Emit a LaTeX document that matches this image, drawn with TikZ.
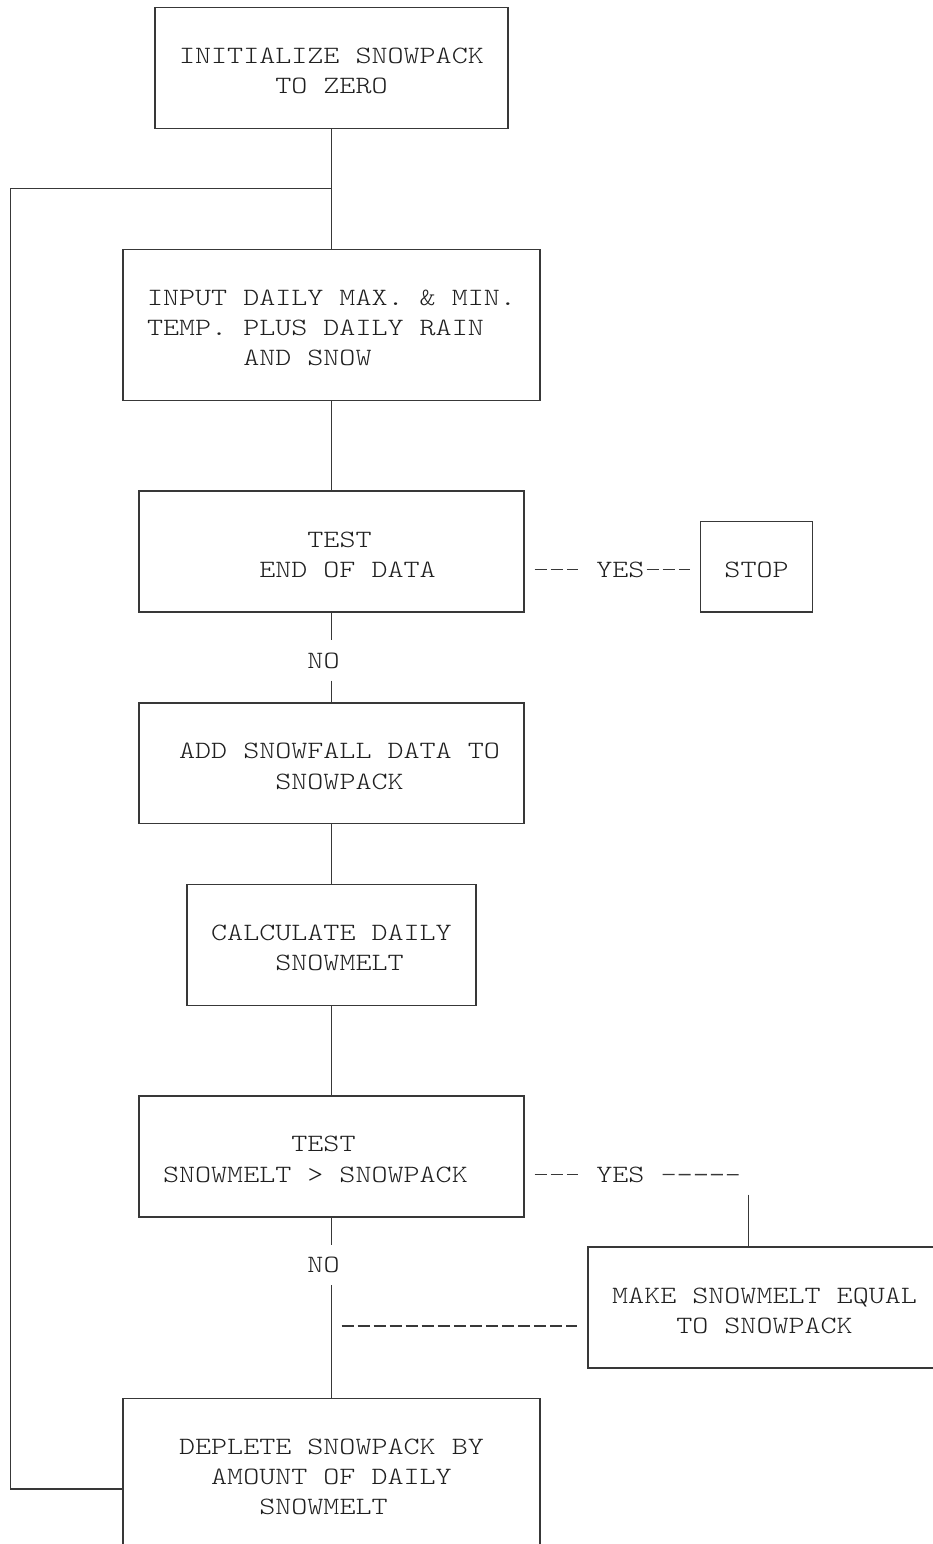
\documentclass[tikz,border=0pt]{standalone}
\usepackage{fontspec}
\newfontfamily\cour{lmmonolt10-regular.otf}[FakeStretch=1.227]
\newdimen\cw \cw=16.04pt
\newcommand\tline[3]{\hbox to #1\cw{\hskip #2\cw\relax #3\hfil}}
\definecolor{ink}{gray}{0.22}
\definecolor{txt}{gray}{0.12}
\tikzset{
  wire/.style={draw=ink, line width=1.4pt},
  hyph/.style={draw=ink, line width=1.3pt, dash pattern=on 12pt off 4.04pt},
  box/.style={draw=ink, line width=1.4pt, inner xsep=8.02pt, inner ysep=0pt,
    text=txt, font=\cour\fontsize{24.9pt}{30.24pt}\selectfont},
  lbl/.style={inner sep=0pt, text=txt, font=\cour\fontsize{24.9pt}{30.24pt}\selectfont},
}
\begin{document}
\begin{tikzpicture}[x=1pt, y=-1pt,
  declare function={cx(\c)=10.7+16.04*\c; cl(\c)=2.7+16.04*\c;
    uy(\r)=7.3+30.24*\r; by(\r)=2.8+30.24*\r; hy(\r)=-4.7+30.24*\r;}]
\path[use as bounding box] (0,0) rectangle (933,1544);
\clip (0,0) rectangle (933,1544);

% boxes
\node[box, text height=55.98pt, text depth=64.98pt] (init) at ({cx(20)},{(uy(0)+uy(4))/2})
  {\vtop{\tline{21}{1}{INITIALIZE SNOWPACK}\tline{21}{7}{TO ZERO}}};
\node[box, text height=55.98pt, text depth=95.22pt] (input) at ({cx(20)},{(uy(8)+uy(13))/2})
  {\vtop{\tline{25}{1}{INPUT DAILY MAX. \& MIN.}\tline{25}{1}{TEMP. PLUS DAILY RAIN}\tline{25}{7}{AND SNOW}}};
\node[box, text height=55.98pt, text depth=64.98pt] (test1) at ({cx(20)},{(uy(16)+uy(20))/2})
  {\vtop{\tline{23}{10}{TEST}\tline{23}{7}{END OF DATA}}};
\node[box, text height=55.98pt, text depth=34.74pt] (stop) at ({cx(46.5)},{(uy(17)+uy(20))/2})
  {\vtop{\tline{6}{1}{STOP}}};
\node[box, text height=55.98pt, text depth=64.98pt] (add) at ({cx(20)},{(uy(23)+uy(27))/2})
  {\vtop{\tline{23}{2}{ADD SNOWFALL DATA TO}\tline{23}{8}{SNOWPACK}}};
\node[box, text height=55.98pt, text depth=64.98pt] (calc) at ({cx(20)},{(uy(29)+uy(33))/2})
  {\vtop{\tline{17}{1}{CALCULATE DAILY}\tline{17}{5}{SNOWMELT}}};
\node[box, text height=55.98pt, text depth=64.98pt] (test2) at ({cx(20)},{(uy(36)+uy(40))/2})
  {\vtop{\tline{23}{9}{TEST}\tline{23}{1}{SNOWMELT > SNOWPACK}}};
\node[box, text height=55.98pt, text depth=64.98pt] (make) at ({cx(47)},{(uy(41)+uy(45))/2})
  {\vtop{\tline{21}{1}{MAKE SNOWMELT EQUAL}\tline{21}{5}{TO SNOWPACK}}};
\node[box, text height=55.98pt, text depth=125.46pt] (deplete) at ({cx(20)},{(uy(46)+uy(52))/2})
  {\vtop{\tline{25}{3}{DEPLETE SNOWPACK BY}\tline{25}{5}{AMOUNT OF DAILY}\tline{25}{8}{SNOWMELT}}};

% labels
\node[lbl, inner ysep=12pt, anchor=base] (no1) at ({cl(20)},{by(22)}) {NO};
\node[lbl, inner ysep=12pt, anchor=base] (no2) at ({cl(20)},{by(42)}) {NO};
\node[lbl, anchor=base west] (yes1) at ({cl(37)},{by(19)}) {YES};
\node[lbl, anchor=base west] (yes2) at ({cl(37)},{by(39)}) {YES};

% helper points
\coordinate (j1) at ({cx(20)},{uy(6)});
\coordinate (lt) at ({cx(0)},{uy(6)});
\coordinate (lb) at ({cx(0)},{uy(49)});
\coordinate (c2) at ({cx(46)},{hy(39)});
\coordinate (j2) at ({cx(20)},{hy(44)});

% connectors
\draw[wire] (init) -- (input);
\draw[wire] (input) -- (test1);
\draw[wire] (test1.south) -- (test1.south |- no1.north);
\draw[wire] (add.north |- no1.south) -- (add.north);
\draw[wire] (add) -- (calc);
\draw[wire] (calc) -- (test2);
\draw[wire] (test2.south) -- (test2.south |- no2.north);
\draw[wire] (deplete.north |- no2.south) -- (deplete.north);
\draw[wire] (deplete.west |- lb) -- (lb) -- (lt) -- (j1);
\draw[hyph, shorten <=10pt, shorten >=18pt] (test1.east |- yes1.west) -- (yes1.west);
\draw[hyph, shorten <=2pt, shorten >=10pt] (yes1.east) -- (stop.west |- yes1.east);
\draw[hyph, shorten <=10pt, shorten >=18pt] (test2.east |- yes2.west) -- (yes2.west);
\draw[hyph, shorten <=18pt, shorten >=10pt] (yes2.east) -- (c2);
\draw[wire, shorten <=20pt] (c2) -- (c2 |- make.north);
\draw[hyph, shorten <=10pt, shorten >=10pt] (j2) -- (make.west |- j2);
\end{tikzpicture}
\end{document}
